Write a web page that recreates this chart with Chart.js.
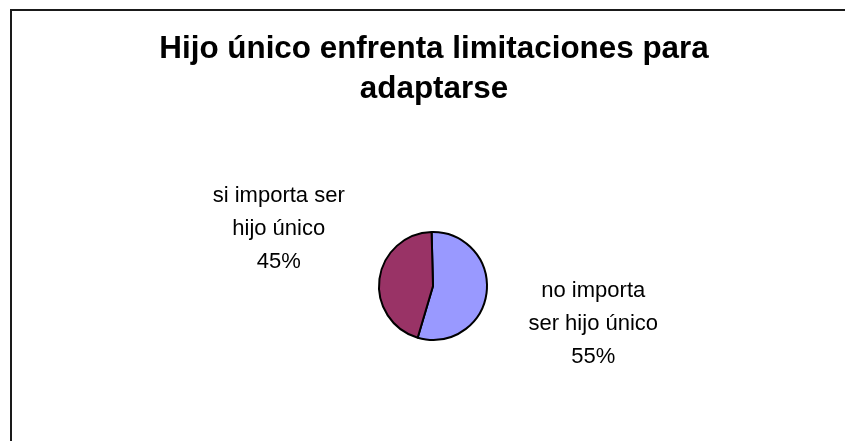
<!DOCTYPE html>
<html>
<head>
<meta charset="utf-8">
<script src="https://cdn.jsdelivr.net/npm/chart.js@4/dist/chart.umd.min.js"></script>
<style>
  html,body{margin:0;padding:0;background:#fff;}
  #wrap{width:845px;height:441px;position:relative;}
</style>
</head>
<body>
<div id="wrap"><canvas id="pieChart" width="845" height="441"></canvas></div>
<script>
const titleLines = ["Hijo único enfrenta limitaciones para", "adaptarse"];
const categories = ["no importa ser hijo único", "si importa ser hijo único"];
const values = [55, 45];
const colors = ["#9999FF", "#993366"];
// how each label is wrapped, like in the original
const labelLines = [
  ["no importa", "ser hijo único"],
  ["si importa ser", "hijo único"]
];
const labelShift = [[5, 16], [1, -38]];

const FONT = "'Liberation Sans', Arial, sans-serif";

const framePlugin = {
  id: "frame",
  beforeDraw(chart){
    const c = chart.ctx;
    c.save();
    c.fillStyle = "#fff";
    c.fillRect(0, 0, chart.width, chart.height);
    c.strokeStyle = "#1a1a1a";
    c.lineWidth = 2;
    c.beginPath();
    c.moveTo(11, chart.height);
    c.lineTo(11, 10);
    c.lineTo(chart.width, 10);
    c.stroke();
    c.restore();
  }
};

const textPlugin = {
  id: "texts",
  afterDraw(chart){
    const c = chart.ctx;
    c.save();
    c.fillStyle = "#000";
    c.textAlign = "center";
    c.textBaseline = "alphabetic";
    c.font = "bold 31.4px " + FONT;
    titleLines.forEach((t, i)=> c.fillText(t, 434, 58 + i*40));

    // slice labels, placed from each arc's middle angle
    c.font = "22px " + FONT;
    const meta = chart.getDatasetMeta(0);
    const total = values.reduce((a,b)=>a+b, 0);
    meta.data.forEach((arc, i)=>{
      const p = arc.getProps(["x","y","startAngle","endAngle","outerRadius"], true);
      const mid = (p.startAngle + p.endAngle)/2;
      const d = p.outerRadius*2.9;
      const cx = p.x + Math.cos(mid)*d + labelShift[i][0];
      const cy = p.y + Math.sin(mid)*d + labelShift[i][1];
      const lines = labelLines[i].concat([Math.round(values[i]/total*100) + "%"]);
      const lh = 32.8;
      const y0 = cy - (lines.length-1)*lh/2 + 7.7;
      lines.forEach((ln, k)=> c.fillText(ln, cx, y0 + k*lh));
    });
    c.restore();
  }
};

new Chart(document.getElementById("pieChart"), {
  type: "pie",
  data: {
    labels: categories,
    datasets: [{
      data: values,
      backgroundColor: colors,
      borderColor: "#000",
      borderWidth: 2
    }]
  },
  options: {
    responsive: false,
    devicePixelRatio: 1,
    animation: false,
    rotation: -1.5,
    layout: { padding: { left: 378, right: 357, top: 231, bottom: 100 } },
    plugins: {
      legend: { display: false },
      title: { display: false },
      tooltip: { enabled: false }
    }
  },
  plugins: [framePlugin, textPlugin]
});
</script>
</body>
</html>
